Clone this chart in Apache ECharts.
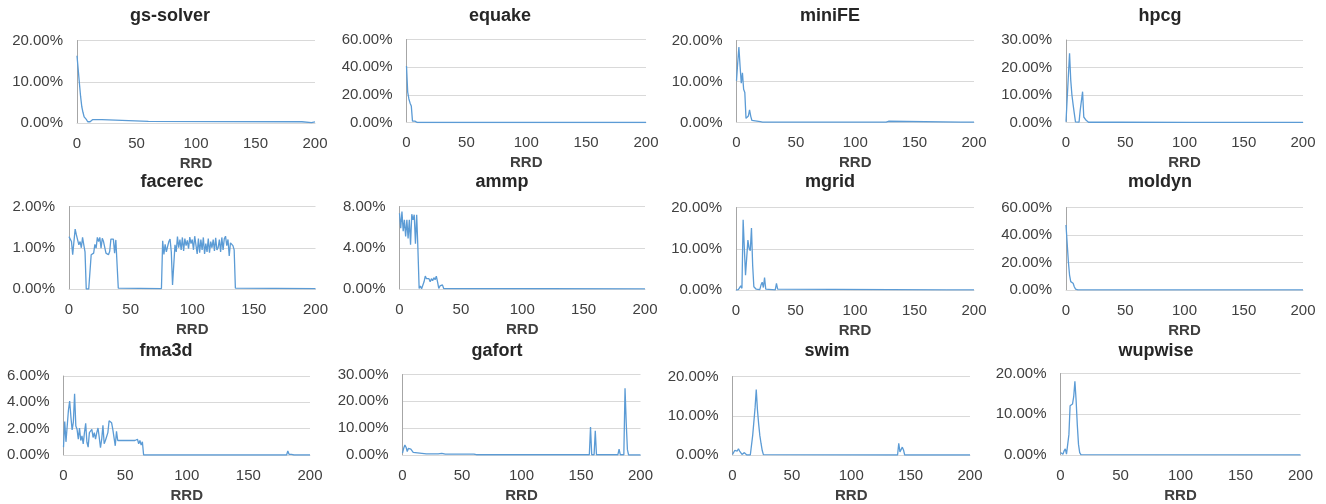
<!DOCTYPE html>
<html>
<head>
<meta charset="utf-8">
<script src="https://cdn.jsdelivr.net/npm/echarts@6/dist/echarts.min.js"></script>
<style>
  html, body { margin: 0; padding: 0; background: #fff; }
  #main { width: 1326px; height: 504px; }
</style>
</head>
<body>
<div id="main"></div>
<script>
// RRD values on the x axis, share of accesses (%) on the y axis
const rrdTicks = [0, 50, 100, 150, 200];

const gsSolver = [[0,16.3],[1,13],[2,9.7],[3,6.5],[4,4],[5,2.6],[6,1.5],[7,1.1],[8,0.8],[9,0.3],[10,0],[11,0.3],[12,0.6],[13,0.8],[14,0.8],[21,0.8],[22,0.4],[60,0.4],[120,0.35],[189,0.3],[190,0.1],[197,0.1],[200,0.3]];
const equake = [[0,40.8],[1,22],[2,17],[3,14],[4,12],[5,1],[6,1.5],[7,1],[8,0.3],[9,0],[200,0]];
const miniFE = [[0,10.2],[1,14.5],[2,18.4],[3,13.8],[4,9.6],[5,12.1],[6,8.1],[7,7.3],[8,1],[9,1.2],[10,1.6],[11,3.1],[12,1.5],[13,0.5],[14,0.3],[20,0.2],[21,0.5],[22,0.1],[117,0.1],[118,0.3],[119,0.1],[126,0.1],[127,0.4],[128,0.3],[129,0.1],[189,0.1],[190,0.35],[191,0.1],[200,0.1]];
const hpcg = [[0,0.3],[1,8.7],[2,17],[3,25.2],[4,15.4],[5,10],[6,6.5],[7,3.3],[8,0.2],[9,0],[11,0.1],[12,4.5],[13,5.1],[14,11.2],[15,2],[16,1.5],[17,0.8],[18,0.3],[19,0.1],[45,0.1],[46,0.02],[104,0.02],[105,0.3],[106,0.02],[200,0.02]];
const facerec = [[0,1.27],[1,1.25],[2,1.15],[3,0.83],[4,1.15],[5,1.45],[6,1.31],[7,1.19],[8,1.07],[9,1.15],[10,1.0],[11,1.25],[12,1.07],[13,0.9],[14,0],[15,0],[16,0],[17,0.02],[18,0.83],[19,0.87],[20,0.87],[21,1.08],[22,0.99],[23,1.25],[24,1.15],[25,1.25],[26,0.99],[27,1.23],[28,1.15],[29,1.13],[30,0.87],[31,0.83],[32,0.83],[33,0.91],[34,1.21],[35,1.17],[36,1.21],[37,0.87],[38,1.19],[39,1.17],[40,0.02],[41,0.01],[75,0.01],
  [76,1.17],[77,0.84],[78,1.08],[79,0.9],[80,1.03],[81,1.15],[82,1.21],[83,0.9],[84,0.1],[85,0.14],[86,1.07],[87,0.9],[88,1.27],[89,1.0],[90,1.2],[91,0.95],[92,1.25],[93,0.92],[94,1.22],[95,1.05],[96,1.18],[97,0.98],[98,1.26],[99,1.1],[100,1.2],[101,0.95],[102,1.28],[103,1.25],[104,0.85],[105,1.22],[106,0.88],[107,1.2],[108,0.95],[109,1.25],[110,0.85],[111,1.1],[112,0.9],[113,1.22],[114,0.88],[115,1.15],[116,1.0],[117,1.2],[118,0.92],[119,1.24],[120,0.95],[121,1.0],[122,1.2],[123,0.9],[124,1.25],[125,0.95],[126,1.22],[127,1.28],[128,1.05],[129,1.2],[130,0.8],[131,1.12],[132,1.1],[133,1.05],[134,0.95],[135,0.02],[200,0.01]];
const ammp = [[0,7.35],[1,5.9],[2,7.5],[3,5.6],[4,6.7],[5,5.1],[6,6.7],[7,4.9],[8,6.7],[9,4.3],[10,7.25],[11,6.7],[12,7.2],[13,4.4],[14,7.2],[15,3.9],[16,0.05],[17,0.3],[18,0.02],[19,0.2],[20,0.7],[21,1.25],[22,1.0],[23,0.9],[24,1.0],[25,0.7],[26,1.0],[27,0.8],[28,1.1],[29,0.9],[30,1.25],[31,0.7],[32,0.05],[33,0.3],[34,0.45],[35,0.4],[36,0.05],[37,0.02],[200,0.02]];
const mgrid = [[0,0],[1,0.1],[2,0.1],[3,0.5],[4,1.0],[5,0.4],[6,17],[7,10.1],[8,3.6],[9,3.2],[10,12.1],[11,10.1],[12,9.5],[13,15],[14,6],[15,0.8],[16,0.5],[17,0.2],[18,0.1],[20,0.1],[21,1.2],[22,1.9],[23,0.6],[24,3.0],[25,0.2],[26,0.05],[33,0.05],[34,1.6],[35,0.2],[36,0.02],[177,0.02],[178,0.3],[179,0.02],[200,0.02]];
const moldyn = [[0,47.3],[1,46.8],[2,20.6],[3,10.9],[4,6.1],[5,5.6],[6,4.9],[7,2.4],[8,0.7],[9,0.2],[10,0.1],[21,0.1],[22,0.3],[23,0.1],[127,0.1],[128,0.5],[129,0.1],[200,0.1]];
const fma3d = [[0,0.6],[1,2.55],[2,1.0],[3,0.95],[4,3.4],[5,4.1],[6,2.9],[7,1.9],[8,2.5],[9,4.65],[10,2.2],[11,1.95],[12,1.2],[13,2.05],[14,1.1],[15,1.45],[16,0.85],[17,1.7],[18,2.4],[19,0.97],[20,0.6],[21,1.7],[22,1.8],[23,1.95],[24,1.33],[25,1.7],[26,1.2],[27,1.7],[28,2.05],[29,1.33],[30,0.55],[31,1.2],[32,2.25],[33,0.85],[34,1.1],[35,1.2],[36,1.7],[37,2.6],[38,2.6],[39,2.45],[40,1.95],[41,1.95],[42,0.7],[43,1.8],[44,1.1],[58,1.1],[59,1.15],[60,1.2],[61,0.85],[62,1.1],[63,0.75],[64,1.0],[65,0],[181,0],[182,0.3],[183,0.05],[185,0.05],[186,0.15],[187,0],[200,0]];
const gafort = [[0,0.7],[1,2.5],[2,3.7],[3,2.9],[4,1.3],[5,2.5],[6,2.2],[7,2.2],[8,1.7],[9,1.0],[10,0.5],[20,0.45],[30,0.4],[33,0.6],[36,0.3],[60,0.3],[62,0.1],[157,0.1],[158,10.4],[159,0.1],[161,0.1],[162,9.0],[163,0.1],[181,0.1],[182,2.2],[183,0.1],[186,0.1],[187,24.9],[188,12],[189,2],[190,0],[200,0]];
const swim = [[0,0.15],[1,0.65],[2,1.2],[3,1.4],[4,1.0],[5,1.6],[6,1.0],[7,0.8],[8,0.15],[9,0],[10,0.6],[11,0.4],[12,0],[15,0],[16,0.2],[17,5],[18,8.5],[19,12],[20,16.7],[21,11.5],[22,8],[23,5],[24,3],[25,1.2],[26,0.1],[27,0],[139,0],[140,3.0],[141,0.8],[142,0.5],[143,2.0],[144,1.3],[145,0],[200,0]];
const wupwise = [[0,0.6],[1,0.2],[2,0.2],[3,1.0],[4,1.5],[5,0.2],[6,0.3],[7,5],[8,12.1],[9,12.1],[10,12.5],[11,14.3],[12,18.1],[13,13.5],[14,7.4],[15,2.6],[16,0.6],[17,0.1],[18,0.02],[200,0.02]];

const names = ["gs-solver", "equake", "miniFE", "hpcg", "facerec", "ammp", "mgrid", "moldyn", "fma3d", "gafort", "swim", "wupwise"];
const seriesData = [gsSolver, equake, miniFE, hpcg, facerec, ammp, mgrid, moldyn, fma3d, gafort, swim, wupwise];
const yMax = [20, 60, 20, 30, 2, 8, 20, 60, 6, 30, 20, 20];
const yStep = [10, 20, 10, 10, 1, 4, 10, 20, 2, 10, 10, 10];

// plot rectangles [left, top, width, height] and title centre [x, y]
const plots = [
  [77, 40.5, 238, 82.5], [406.5, 39.5, 239.5, 83], [736.5, 40.5, 237.5, 82], [1066, 40, 237, 82.5],
  [69, 206.5, 246.5, 82.5], [399.5, 206.5, 245.5, 82.5], [736, 207.5, 238, 82.5], [1066, 207.5, 237, 82.5],
  [63.5, 376, 246.5, 82], [402.5, 374.5, 238, 82.5], [732.5, 376.5, 237.5, 82], [1060.5, 373.5, 240, 82]
];
const titlePos = [
  [170, 17], [500, 17], [830, 17], [1160, 17],
  [172, 183], [502, 183], [830, 183], [1160, 183],
  [166, 352], [497, 352], [827, 352], [1156, 352]
];

const font = "'Liberation Sans', Arial, sans-serif";
const chart = echarts.init(document.getElementById("main"));

const option = { animation: false, title: [], grid: [], xAxis: [], yAxis: [], series: [] };

names.forEach(function (name, i) {
  const p = plots[i];
  option.title.push({
    text: name,
    left: titlePos[i][0], top: titlePos[i][1] - 10,
    textAlign: "center", padding: 0,
    textStyle: { fontFamily: font, fontSize: 18, fontWeight: "bold", color: "#262626" }
  });
  option.grid.push({ left: p[0], top: p[1], width: p[2], height: p[3], containLabel: false });
  option.xAxis.push({
    gridIndex: i, type: "value", min: 0, max: 200, interval: 50,
    name: "RRD", nameLocation: "middle", nameGap: 33,
    nameTextStyle: { fontFamily: font, fontSize: 15, fontWeight: "bold", color: "#404040" },
    axisLine: { show: true, lineStyle: { color: "#d9d9d9" } },
    axisTick: { show: false },
    splitLine: { show: false },
    axisLabel: {
      margin: 13, fontFamily: font, fontSize: 15, color: "#404040",
      customValues: rrdTicks
    }
  });
  option.yAxis.push({
    gridIndex: i, type: "value", min: 0, max: yMax[i], interval: yStep[i],
    axisLine: { show: true, lineStyle: { color: "#a6a6a6" } },
    axisTick: { show: false },
    splitLine: { lineStyle: { color: "#d9d9d9" } },
    axisLabel: {
      margin: 14, fontFamily: font, fontSize: 15, color: "#404040",
      formatter: function (v) { return v.toFixed(2) + "%"; }
    }
  });
  option.series.push({
    name: name, type: "line", xAxisIndex: i, yAxisIndex: i,
    data: seriesData[i], showSymbol: false, symbol: "none",
    lineStyle: { color: "#5b9bd5", width: 1.3 }
  });
});

chart.setOption(option);
</script>
</body>
</html>
